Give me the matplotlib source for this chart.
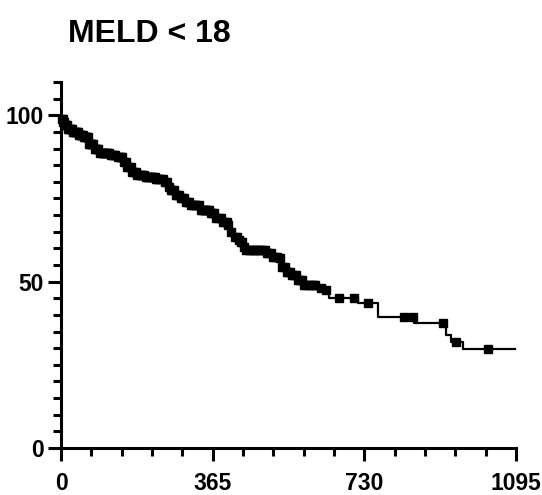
import numpy as np
import matplotlib.pyplot as plt
from matplotlib.ticker import MultipleLocator

# Kaplan-Meier steps (days, % surviving)
times = [0, 2, 5, 10, 17, 29, 41, 53, 65, 80, 94, 118, 135, 152, 159, 171, 183,
         203, 227, 246, 256, 263, 275, 287, 299, 311, 335, 359, 371, 388, 400,
         408, 412, 424, 432, 439, 444, 492, 509, 521, 528, 540, 552, 569, 584,
         620, 637, 644, 714, 762, 849, 926, 938, 967]
surv = [100, 99, 98, 97, 96, 95, 94.2, 93.4, 91.5, 90, 88.7, 88, 87.5, 86, 84.5,
        83, 82, 81.5, 80.8, 80, 78.5, 77.5, 76, 75, 74, 73, 71.5, 70.5, 69, 68,
        67, 65, 63.4, 62.5, 62, 60.5, 59.5, 58.5, 57.5, 57, 54.5, 53, 52, 50.5,
        49, 48, 47.5, 45, 43.6, 39.4, 37.5, 34, 31.9, 29.7]
end_day = 1093

# censored observations (days)
censored = [2, 4, 6, 8, 10, 12, 15, 18, 20, 22, 24, 27, 30, 32, 34, 36, 38, 40,
            43, 45, 47, 49, 52, 55, 58, 60, 62, 64, 67, 70, 72, 75, 78, 82, 84,
            87, 90, 94, 98, 101, 104, 107, 110, 113, 116, 120, 124, 127, 130,
            136, 142, 145, 148, 152, 156, 160, 164, 168, 172, 176, 180, 184,
            188, 192, 196, 200, 204, 208, 211, 214, 218, 222, 226, 229, 232,
            236, 240, 245, 250, 254, 259, 264, 268, 272, 276, 280, 284, 288,
            292, 296, 301, 305, 309, 313, 318, 322, 326, 331, 336, 340, 343,
            346, 349, 352, 356, 360, 364, 368, 374, 380, 385, 390, 395, 399,
            403, 410, 418, 423, 428, 432, 436, 441, 446, 452, 456, 461, 466,
            470, 475, 480, 485, 490, 495, 499, 505, 510, 515, 520, 526, 532,
            538, 543, 546, 550, 555, 560, 566, 571, 575, 580, 586, 590, 596,
            603, 608, 612, 625, 637, 668, 704, 738, 825, 847, 919, 950, 1027]

title = 'MELD < 18'
xticks = [0, 365, 730, 1095]
yticks = [0, 50, 100]

font = ['Liberation Sans', 'DejaVu Sans']

fig = plt.figure(figsize=(5.42, 4.95), dpi=100)
ax = fig.add_axes([61 / 542, 47 / 495, 455 / 542, 366 / 495])

t = np.array(times + [end_day])
s = np.array(surv + [surv[-1]])
ax.step(t, s, where='post', color='black', lw=1.6)

idx = np.searchsorted(times, censored, side='right') - 1
cy = np.array(surv)[idx]
ax.plot(censored, cy, 's', color='black', ms=5.3, mec='black')

ax.set_xlim(0, 1095)
ax.set_ylim(0, 110)
ax.set_xticks(xticks)
ax.set_yticks(yticks)
ax.xaxis.set_minor_locator(MultipleLocator(73))
ax.yaxis.set_minor_locator(MultipleLocator(5))

for side in ['top', 'right']:
    ax.spines[side].set_visible(False)
for side in ['left', 'bottom']:
    ax.spines[side].set_linewidth(2.2)

ax.tick_params(which='major', length=9.5, width=2.2, pad=3)
ax.tick_params(which='minor', length=5.5, width=2.2)
ax.tick_params(axis='x', which='major', pad=8)

for lab in ax.get_xticklabels() + ax.get_yticklabels():
    lab.set_family(font)
    lab.set_fontweight('bold')
    lab.set_fontsize(16.5)

fig.text(68 / 542, (495 - 42) / 495, title, family=font, fontweight='bold',
         fontsize=23, va='baseline', ha='left')

for ln in ax.lines:
    ln.set_clip_on(False)

fig.savefig('out.png', dpi=100)
